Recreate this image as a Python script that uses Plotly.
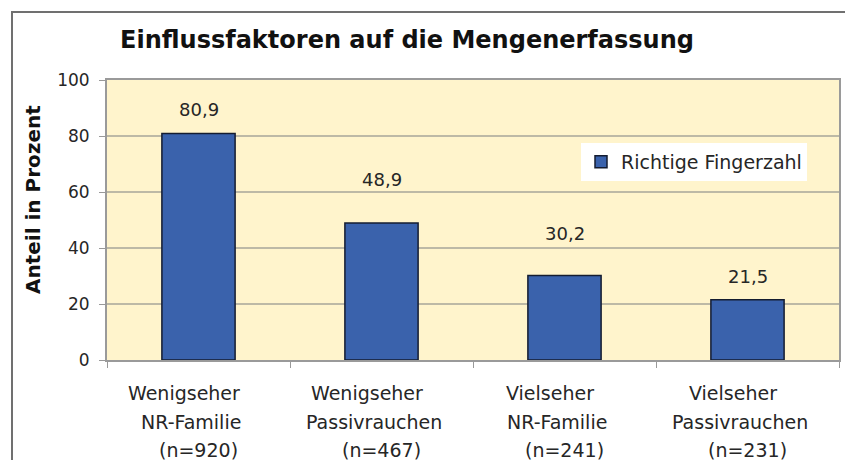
import plotly.graph_objects as go

# ---- data ----
categories = [
    "Wenigseher<br>NR-Familie<br>(n=920)",
    "Wenigseher<br>Passivrauchen<br>(n=467)",
    "Vielseher<br>NR-Familie<br>(n=241)",
    "Vielseher<br>Passivrauchen<br>(n=231)",
]
values = [80.9, 48.9, 30.2, 21.5]
value_labels = ["80,9", "48,9", "30,2", "21,5"]
series_name = "Richtige Fingerzahl"
y_ticks = [0, 20, 40, 60, 80, 100]
title_text = "Einflussfaktoren auf die Mengenerfassung"
y_title = "Anteil in Prozent"

# ---- styling ----
OFF = 8                       # page body margin of the html page
WIN_W, WIN_H = 853, 460
W, H = WIN_W - OFF, WIN_H - OFF
ML, MR, MT, MB = 107 - OFF, 14, 80 - OFF, 100
PW, PH = W - ML - MR, H - MT - MB
FONT = "DejaVu Sans"
label_shift = [24, 44, 42, 23]          # data-label offsets above bar tops (px)
row_yshift = [-33, -62, -90]            # x category label rows (px below axis)
row_xshift = [-15, -8, 0]


def px_x(x):
    # x in window pixels -> paper
    return (x - OFF - ML) / PW


def px_y(y):
    # y in window pixels -> paper
    return (OFF + MT + PH - y) / PH


fig = go.Figure()
fig.add_trace(go.Bar(
    x=categories,
    y=values,
    name=series_name,
    width=0.4,
    marker=dict(color="#3A62AC", line=dict(color="#141c30", width=1.5)),
    showlegend=True,
))

annotations = []
for c, v, t, s in zip(categories, values, value_labels, label_shift):
    annotations.append(dict(
        x=c, y=v, xref="x", yref="y", text=t, showarrow=False,
        yanchor="middle", yshift=s, font=dict(family=FONT, size=18, color="#262626"),
    ))
for c in categories:
    for i, line in enumerate(c.split("<br>")):
        annotations.append(dict(
            x=c, y=0, xref="x", yref="paper", text=line, showarrow=False,
            yanchor="middle", yshift=row_yshift[i], xshift=row_xshift[i],
            font=dict(family=FONT, size=19, color="#262626"),
        ))
annotations.append(dict(
    x=px_x(33), y=px_y(200), xref="paper", yref="paper", text="<b>" + y_title + "</b>",
    textangle=-90, showarrow=False, xanchor="center", yanchor="middle",
    font=dict(family=FONT, size=20, color="#111"),
))

fig.update_layout(
    width=W, height=H,
    margin=dict(l=ML, r=MR, t=MT, b=MB, pad=0),
    paper_bgcolor="white",
    plot_bgcolor="#FFF4CC",
    title=dict(
        text="<b>" + title_text + "</b>",
        x=px_x(407), xref="paper", xanchor="center",
        y=1 - (40 - OFF) / H, yref="container", yanchor="middle",
        font=dict(family=FONT, size=24, color="#111"),
    ),
    legend=dict(
        x=px_x(581), y=px_y(143), xanchor="left", yanchor="top",
        bgcolor="white", borderwidth=0,
        font=dict(family=FONT, size=19, color="#262626"),
    ),
    annotations=annotations,
    shapes=[dict(
        type="rect", xref="paper", yref="paper",
        x0=px_x(12), x1=px_x(851), y0=px_y(520), y1=px_y(12),
        line=dict(color="#707070", width=2), fillcolor="rgba(0,0,0,0)",
        layer="below",
    )],
    bargap=0.6,
)
fig.update_xaxes(
    type="category",
    showticklabels=False,
    ticks="outside", tickson="boundaries", ticklen=6, tickcolor="#999",
    showline=True, linecolor="#9a9a9a", linewidth=2, mirror=True,
    showgrid=False, zeroline=False,
)
fig.update_yaxes(
    range=[0, 100], tickvals=y_ticks,
    ticks="outside", ticklen=6, tickcolor="#999", ticklabelstandoff=6,
    tickfont=dict(family=FONT, size=17, color="#262626"),
    showline=True, linecolor="#9a9a9a", linewidth=2, mirror=True,
    showgrid=True, gridcolor="#bdb9a6", gridwidth=1.5, zeroline=False,
)

fig.write_html("out.html")
